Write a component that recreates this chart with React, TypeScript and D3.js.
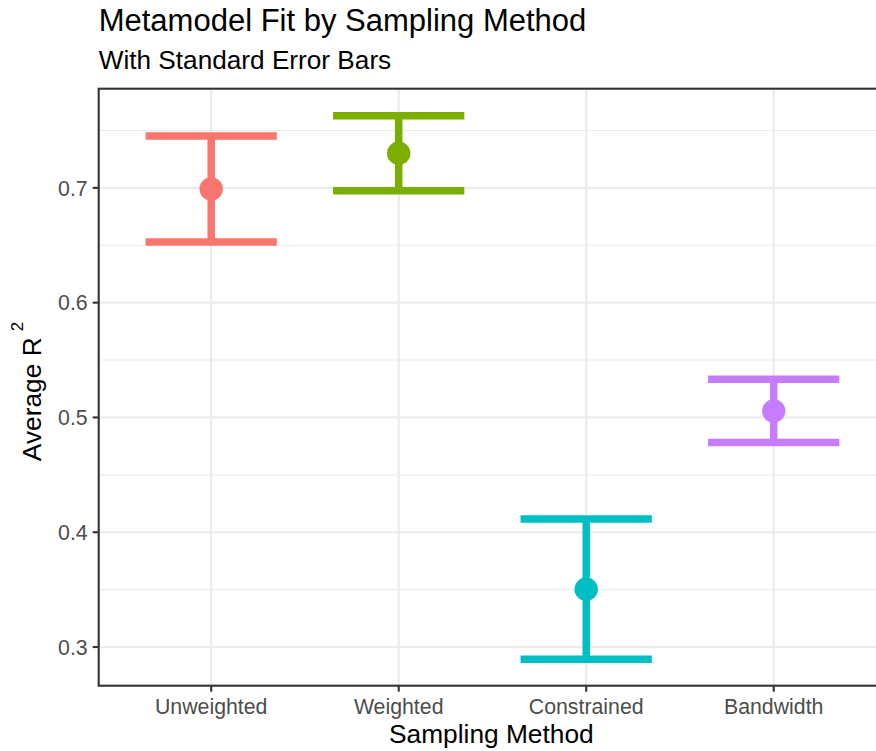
import React from "react";
import * as d3 from "d3";

// Sampling methods and their average R² with standard errors
const methods = ["Unweighted", "Weighted", "Constrained", "Bandwidth"];
const meanR2 = [0.699, 0.7301, 0.3504, 0.5057];
const stdErr = [0.0461, 0.0327, 0.0611, 0.0276];
const colors = ["#F8766D", "#7CAE00", "#00BFC4", "#C77CFF"];
const yTicks = [0.3, 0.4, 0.5, 0.6, 0.7];
const yMinor = [0.35, 0.45, 0.55, 0.65, 0.75];

const W = 876;
const H = 751;
const panel = { left: 98.7, top: 88.7, bottom: 685.7 };
const step = 187.5;
const panelRight = panel.left + step * (methods.length - 1 + 1.2);

const FONT = "'Liberation Sans', Arial, Helvetica, sans-serif";

export default function App() {
  const x = d3
    .scalePoint<string>()
    .domain(methods)
    .range([panel.left + 0.6 * step, panelRight - 0.6 * step]);
  const y = d3
    .scaleLinear()
    .domain([0.2663, 0.7864])
    .range([panel.bottom, panel.top]);

  const capHalf = (0.7 * step) / 2;

  return (
    <svg
      width={W}
      height={H}
      style={{ position: "absolute", left: 0, top: 0, background: "#fff" }}
      fontFamily={FONT}
    >
      <rect x={0} y={0} width={W} height={H} fill="#fff" />
      {/* panel background */}
      <rect
        x={panel.left}
        y={panel.top}
        width={panelRight - panel.left}
        height={panel.bottom - panel.top}
        fill="#fff"
      />
      {/* minor grid */}
      {yMinor.map((v) => (
        <line
          key={"mn" + v}
          x1={panel.left}
          x2={panelRight}
          y1={y(v)}
          y2={y(v)}
          stroke="#EBEBEB"
          strokeWidth={1.1}
        />
      ))}
      {/* major grid */}
      {yTicks.map((v) => (
        <line
          key={"mj" + v}
          x1={panel.left}
          x2={panelRight}
          y1={y(v)}
          y2={y(v)}
          stroke="#EBEBEB"
          strokeWidth={2.2}
        />
      ))}
      {methods.map((m) => (
        <line
          key={"vx" + m}
          x1={x(m)}
          x2={x(m)}
          y1={panel.top}
          y2={panel.bottom}
          stroke="#EBEBEB"
          strokeWidth={2.2}
        />
      ))}

      {/* error bars and means */}
      {methods.map((m, i) => {
        const cx = x(m) as number;
        const lo = y(meanR2[i] - stdErr[i]);
        const hi = y(meanR2[i] + stdErr[i]);
        return (
          <g key={"eb" + m} stroke={colors[i]} strokeWidth={7.5} fill="none">
            <line x1={cx} x2={cx} y1={hi} y2={lo} />
            <line x1={cx - capHalf} x2={cx + capHalf} y1={hi} y2={hi} />
            <line x1={cx - capHalf} x2={cx + capHalf} y1={lo} y2={lo} />
            <circle cx={cx} cy={y(meanR2[i])} r={11.7} fill={colors[i]} stroke="none" />
          </g>
        );
      })}

      {/* panel border */}
      <rect
        x={panel.left}
        y={panel.top}
        width={panelRight - panel.left}
        height={panel.bottom - panel.top}
        fill="none"
        stroke="#333333"
        strokeWidth={2.1}
      />

      {/* y axis ticks and labels */}
      {yTicks.map((v) => (
        <g key={"yt" + v}>
          <line
            x1={panel.left - 6}
            x2={panel.left}
            y1={y(v)}
            y2={y(v)}
            stroke="#333333"
            strokeWidth={2.1}
          />
          <text
            x={panel.left - 11}
            y={y(v)}
            dy="0.36em"
            textAnchor="end"
            fontSize={21.3}
            fill="#4D4D4D"
          >
            {v.toFixed(1)}
          </text>
        </g>
      ))}

      {/* x axis ticks and labels */}
      {methods.map((m) => (
        <g key={"xt" + m}>
          <line
            x1={x(m)}
            x2={x(m)}
            y1={panel.bottom}
            y2={panel.bottom + 6}
            stroke="#333333"
            strokeWidth={2.1}
          />
          <text
            x={x(m)}
            y={714.3}
            textAnchor="middle"
            fontSize={21.3}
            fill="#4D4D4D"
          >
            {m}
          </text>
        </g>
      ))}

      {/* axis titles */}
      <text
        x={(panel.left + 876) / 2 + 4}
        y={743}
        textAnchor="middle"
        fontSize={26.3}
        fill="#000"
      >
        Sampling Method
      </text>
      <text
        transform={`translate(41, 391.5) rotate(-90)`}
        textAnchor="middle"
        fontSize={26.3}
        fill="#000"
      >
        Average R
        <tspan dx={6} dy={-18} fontSize={17}>
          2
        </tspan>
      </text>

      {/* titles */}
      <text x={98.7} y={31} fontSize={31} fill="#000">
        Metamodel Fit by Sampling Method
      </text>
      <text x={98.7} y={69} fontSize={26.2} fill="#000">
        With Standard Error Bars
      </text>
    </svg>
  );
}
